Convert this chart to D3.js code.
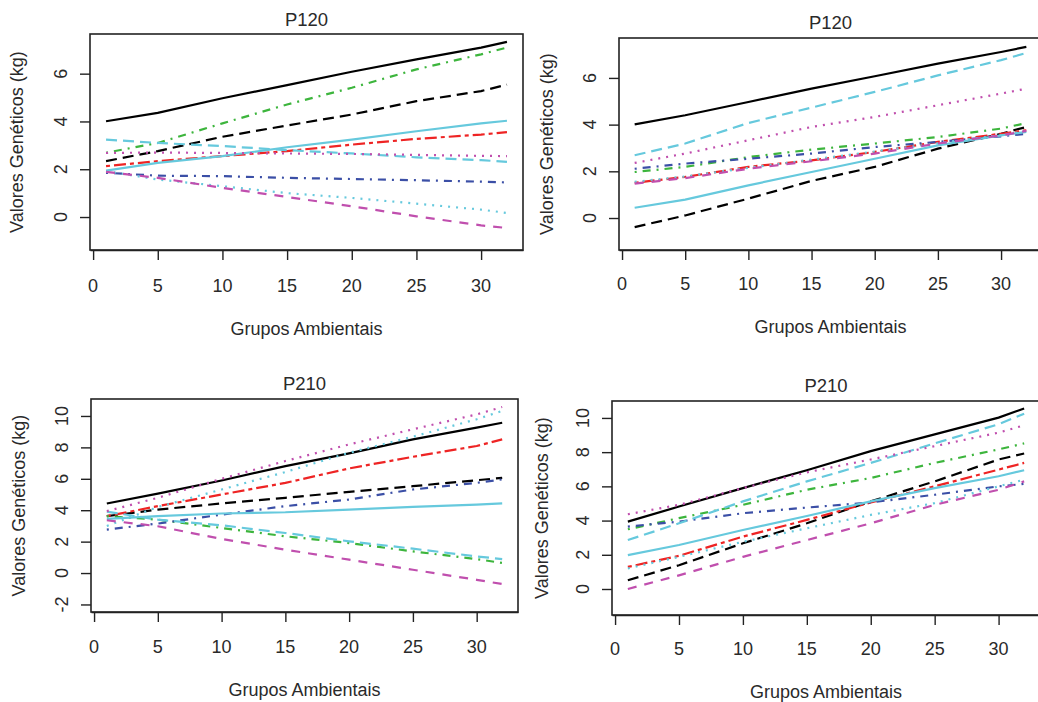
<!DOCTYPE html>
<html><head><meta charset="utf-8">
<script src="https://cdn.jsdelivr.net/npm/d3@7/dist/d3.min.js"></script>
<style>
html,body{margin:0;padding:0;background:#fff;}
svg text{font-family:"Liberation Sans",Arial,sans-serif;fill:#2a2a2a;}
</style></head>
<body>
<svg id="chart" width="1038" height="702"></svg>
<script>
// ---------- DATA ----------
const groups = [1, 5, 10, 15, 20, 25, 30, 32];           // Grupos Ambientais (x)
const xTicks = [0, 5, 10, 15, 20, 25, 30];
const titles = ["P120", "P120", "P210", "P210"];
const xTitle = "Grupos Ambientais";
const yTitle = "Valores Genéticos (kg)";
const yTicksP120 = [0, 2, 4, 6];
const yTicksP210a = [-2, 0, 2, 4, 6, 8, 10];
const yTicksP210b = [0, 2, 4, 6, 8, 10];

// series order: black solid, black longdash, red twodash, green dotdash, blue dotdash,
// cyan solid, cyan longdash, cyan dotted, magenta dotted, magenta dashed
const p120Left = [
  [4.01, 4.36, 4.97, 5.52, 6.08, 6.60, 7.09, 7.33],
  [2.34, 2.76, 3.36, 3.83, 4.29, 4.85, 5.27, 5.54],
  [2.13, 2.34, 2.55, 2.76, 3.03, 3.27, 3.45, 3.55],
  [2.69, 3.10, 3.92, 4.71, 5.41, 6.18, 6.81, 7.09],
  [1.85, 1.73, 1.71, 1.64, 1.59, 1.54, 1.48, 1.45],
  [1.94, 2.27, 2.55, 2.92, 3.24, 3.59, 3.92, 4.03],
  [3.24, 3.10, 2.97, 2.80, 2.66, 2.50, 2.38, 2.31],
  [1.92, 1.57, 1.29, 1.00, 0.80, 0.56, 0.31, 0.17],
  [2.68, 2.70, 2.68, 2.66, 2.64, 2.60, 2.56, 2.55],
  [1.89, 1.64, 1.22, 0.84, 0.45, 0.03, -0.35, -0.46]
];
const p120Right = [
  [4.01, 4.40, 4.97, 5.54, 6.07, 6.61, 7.11, 7.33],
  [-0.39, 0.11, 0.83, 1.59, 2.19, 2.97, 3.61, 3.90],
  [1.51, 1.76, 2.19, 2.47, 2.83, 3.26, 3.61, 3.76],
  [1.97, 2.19, 2.61, 2.93, 3.19, 3.47, 3.83, 4.07],
  [2.11, 2.33, 2.54, 2.76, 3.04, 3.26, 3.50, 3.61],
  [0.44, 0.79, 1.40, 1.97, 2.54, 3.11, 3.54, 3.69],
  [2.69, 3.19, 4.07, 4.73, 5.40, 6.11, 6.76, 7.07],
  [1.55, 1.78, 2.15, 2.50, 2.85, 3.20, 3.55, 3.72],
  [2.36, 2.76, 3.33, 3.90, 4.33, 4.83, 5.33, 5.54],
  [1.47, 1.71, 2.11, 2.43, 2.76, 3.19, 3.54, 3.73]
];
const p210Left = [
  [4.43, 5.06, 5.89, 6.81, 7.62, 8.51, 9.26, 9.57],
  [3.62, 4.04, 4.43, 4.79, 5.17, 5.53, 5.91, 6.06],
  [3.62, 4.26, 5.00, 5.74, 6.66, 7.40, 8.09, 8.51],
  [3.62, 3.40, 2.87, 2.34, 1.91, 1.38, 0.89, 0.64],
  [2.77, 3.15, 3.72, 4.26, 4.68, 5.32, 5.74, 5.96],
  [3.45, 3.62, 3.79, 3.87, 4.04, 4.21, 4.36, 4.43],
  [3.91, 3.40, 3.04, 2.55, 2.02, 1.55, 1.06, 0.89],
  [3.00, 4.20, 5.32, 6.43, 7.66, 8.68, 9.79, 10.32],
  [3.94, 4.79, 6.00, 7.13, 8.19, 9.15, 10.10, 10.57],
  [3.36, 2.98, 2.17, 1.49, 0.85, 0.21, -0.43, -0.70]
];
const p210Right = [
  [3.94, 4.82, 5.90, 6.94, 8.06, 9.04, 10.02, 10.55],
  [0.51, 1.39, 2.67, 3.84, 5.12, 6.29, 7.57, 7.92],
  [1.29, 1.94, 3.06, 4.04, 5.06, 6.00, 6.98, 7.37],
  [3.49, 4.14, 4.92, 5.80, 6.49, 7.37, 8.16, 8.51],
  [3.65, 3.94, 4.43, 4.76, 5.06, 5.51, 6.00, 6.14],
  [1.98, 2.57, 3.45, 4.27, 5.12, 5.90, 6.59, 6.94],
  [2.86, 3.84, 5.12, 6.29, 7.37, 8.51, 9.63, 10.25],
  [1.20, 1.88, 2.76, 3.55, 4.33, 5.02, 6.00, 6.39],
  [4.37, 4.92, 5.90, 6.82, 7.57, 8.35, 9.14, 9.57],
  [0.00, 0.80, 1.88, 2.86, 3.84, 4.92, 5.80, 6.29]
];

// ---------- STYLES ----------
const seriesColors = ["#000000", "#000000", "#ee2424", "#3db53d", "#3b4fa6",
                      "#66c9dd", "#66c9dd", "#66c9dd", "#c04fae", "#c04fae"];
const seriesDash = [null, "11,6", "4,4,12,4", "2,6,8,6", "2,6,8,6",
                    null, "11,6", "2,6", "2,6", "9,8"];

// ---------- LAYOUT ----------
const panels = [
  {data: p120Left,  yTicks: yTicksP120,  yDom: [-1.38, 7.66], box: {l: 90,  r: 523,  t: 34,  b: 250},
   titleY: 19, yLabX: 17, yTickX: 61, xTickY: 286, xTitleY: 329},
  {data: p120Right, yTicks: yTicksP120,  yDom: [-1.37, 7.71], box: {l: 619, r: 1042, t: 38,  b: 250},
   titleY: 22, yLabX: 547, yTickX: 590, xTickY: 284, xTitleY: 327},
  {data: p210Left,  yTicks: yTicksP210a, yDom: [-2.48, 11.08], box: {l: 91, r: 518,  t: 399, b: 612},
   titleY: 383, yLabX: 19, yTickX: 62, xTickY: 647, xTitleY: 690},
  {data: p210Right, yTicks: yTicksP210b, yDom: [-1.52, 10.99], box: {l: 612, r: 1040, t: 401, b: 615},
   titleY: 385, yLabX: 542, yTickX: 583, xTickY: 649, xTitleY: 692}
];

const svg = d3.select("#chart");
const FS = 18;

panels.forEach((p, i) => {
  const b = p.box;
  const x = d3.scaleLinear().domain([-0.24, 33.24]).range([b.l, b.r]);
  const y = d3.scaleLinear().domain(p.yDom).range([b.b, b.t]);
  const g = svg.append("g");
  const cx = (b.l + b.r) / 2, cy = (b.t + b.b) / 2;

  const clipId = "clip" + i;
  g.append("clipPath").attr("id", clipId).append("rect")
    .attr("x", b.l).attr("y", b.t).attr("width", b.r - b.l).attr("height", b.b - b.t);

  // series lines
  const line = d3.line().x((d, k) => x(groups[k])).y(d => y(d));
  const lg = g.append("g").attr("clip-path", `url(#${clipId})`);
  p.data.forEach((vals, s) => {
    lg.append("path").datum(vals).attr("d", line)
      .attr("fill", "none").attr("stroke", seriesColors[s]).attr("stroke-width", 2.2)
      .attr("stroke-dasharray", seriesDash[s]).attr("stroke-linecap", "butt");
  });

  // box
  g.append("rect").attr("x", b.l).attr("y", b.t).attr("width", b.r - b.l).attr("height", b.b - b.t)
    .attr("fill", "none").attr("stroke", "#222").attr("stroke-width", 1.6);

  // x axis
  const xa = g.append("g").attr("transform", `translate(0,${b.b})`)
    .call(d3.axisBottom(x).tickValues(xTicks).tickSize(10).tickSizeOuter(0).tickFormat(d3.format("d")));
  xa.select(".domain").attr("stroke", "#222").attr("stroke-width", 1.4);
  xa.selectAll(".tick line").attr("stroke", "#222").attr("stroke-width", 1.4);
  xa.selectAll(".tick text").remove();
  g.selectAll(".xt").data(xTicks).join("text").attr("class", "xt")
    .attr("x", d => x(d)).attr("y", p.xTickY).attr("text-anchor", "middle")
    .attr("dominant-baseline", "central").attr("font-size", FS).text(d => d);

  // y axis
  const ya = g.append("g").attr("transform", `translate(${b.l},0)`)
    .call(d3.axisLeft(y).tickValues(p.yTicks).tickSize(10).tickSizeOuter(0));
  ya.select(".domain").remove();
  ya.selectAll(".tick line").attr("stroke", "#222").attr("stroke-width", 1.4);
  ya.selectAll(".tick text").remove();
  g.selectAll(".yt").data(p.yTicks).join("text").attr("class", "yt")
    .attr("transform", d => `translate(${p.yTickX},${y(d)}) rotate(-90)`)
    .attr("text-anchor", "middle").attr("dominant-baseline", "central")
    .attr("font-size", FS).text(d => d);

  // titles
  g.append("text").attr("x", cx).attr("y", p.titleY).attr("text-anchor", "middle")
    .attr("dominant-baseline", "central").attr("font-size", FS + 0.5).text(titles[i]);
  g.append("text").attr("x", cx).attr("y", p.xTitleY).attr("text-anchor", "middle")
    .attr("dominant-baseline", "central").attr("font-size", FS).text(xTitle);
  g.append("text").attr("transform", `translate(${p.yLabX},${cy}) rotate(-90)`)
    .attr("text-anchor", "middle").attr("dominant-baseline", "central")
    .attr("font-size", FS).text(yTitle);
});
</script>
</body></html>
